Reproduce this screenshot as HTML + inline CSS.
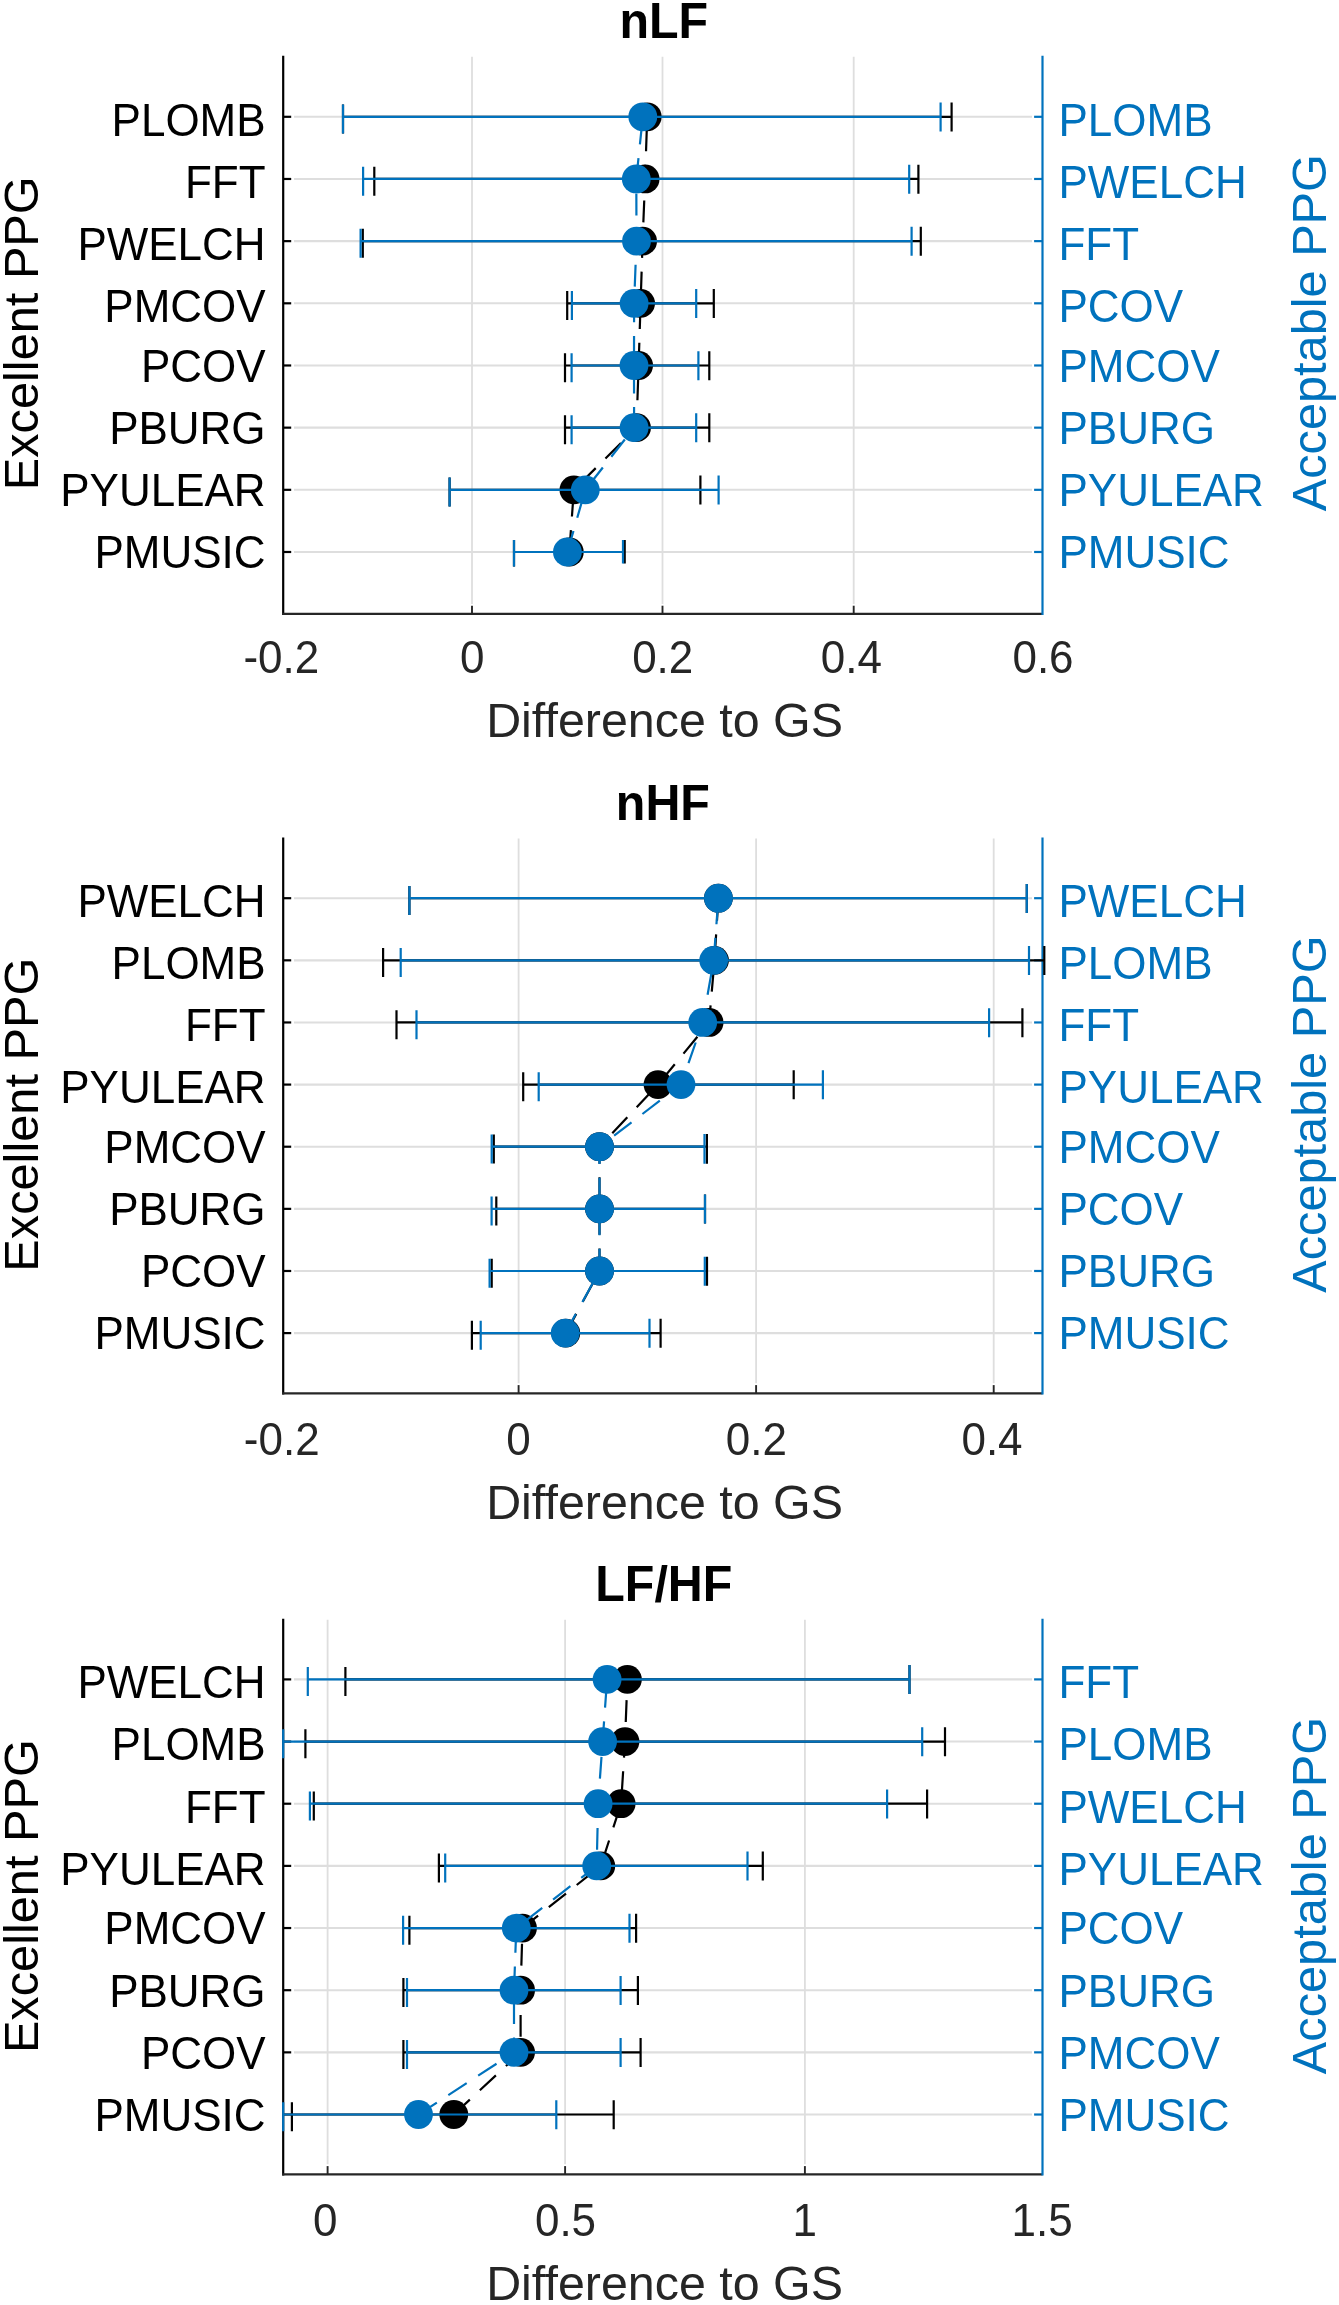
<!DOCTYPE html>
<html><head><meta charset="utf-8"><title>Chart</title>
<style>html,body{margin:0;padding:0;background:#fff;}svg{display:block;}</style>
</head><body>
<svg width="1339" height="2305" viewBox="0 0 1339 2305" font-family="'Liberation Sans', sans-serif" style="will-change:transform">
<rect width="1339" height="2305" fill="#fff"/>
<g>
<g stroke="#dedede" stroke-width="1.8" fill="none">
<line x1="472" y1="56.7" x2="472" y2="603.9"/>
<line x1="662.5" y1="56.7" x2="662.5" y2="603.9"/>
<line x1="853.7" y1="56.7" x2="853.7" y2="603.9"/>
<line x1="294" y1="116.8" x2="1032" y2="116.8" stroke-width="2.1"/>
<line x1="294" y1="178.97" x2="1032" y2="178.97" stroke-width="2.1"/>
<line x1="294" y1="241.14" x2="1032" y2="241.14" stroke-width="2.1"/>
<line x1="294" y1="303.31" x2="1032" y2="303.31" stroke-width="2.1"/>
<line x1="294" y1="365.48" x2="1032" y2="365.48" stroke-width="2.1"/>
<line x1="294" y1="427.65" x2="1032" y2="427.65" stroke-width="2.1"/>
<line x1="294" y1="489.82" x2="1032" y2="489.82" stroke-width="2.1"/>
<line x1="294" y1="551.99" x2="1032" y2="551.99" stroke-width="2.1"/>
</g>
<g stroke="#000000" stroke-width="2.2" fill="none">
<line x1="283.2" y1="55.7" x2="283.2" y2="615"/>
<line x1="283.2" y1="116.8" x2="291.2" y2="116.8"/>
<line x1="283.2" y1="178.97" x2="291.2" y2="178.97"/>
<line x1="283.2" y1="241.14" x2="291.2" y2="241.14"/>
<line x1="283.2" y1="303.31" x2="291.2" y2="303.31"/>
<line x1="283.2" y1="365.48" x2="291.2" y2="365.48"/>
<line x1="283.2" y1="427.65" x2="291.2" y2="427.65"/>
<line x1="283.2" y1="489.82" x2="291.2" y2="489.82"/>
<line x1="283.2" y1="551.99" x2="291.2" y2="551.99"/>
</g>
<g stroke="#262626" stroke-width="2.2" fill="none">
<line x1="282.1" y1="613.9" x2="1042.5" y2="613.9"/>
<line x1="472" y1="613.9" x2="472" y2="605.7" stroke-width="1.9"/>
<line x1="662.5" y1="613.9" x2="662.5" y2="605.7" stroke-width="1.9"/>
<line x1="853.7" y1="613.9" x2="853.7" y2="605.7" stroke-width="1.9"/>
</g>
<g stroke="#0072BD" stroke-width="2.2" fill="none">
<line x1="1042.5" y1="55.7" x2="1042.5" y2="615"/>
<line x1="1042.5" y1="116.8" x2="1034.1" y2="116.8"/>
<line x1="1042.5" y1="178.97" x2="1034.1" y2="178.97"/>
<line x1="1042.5" y1="241.14" x2="1034.1" y2="241.14"/>
<line x1="1042.5" y1="303.31" x2="1034.1" y2="303.31"/>
<line x1="1042.5" y1="365.48" x2="1034.1" y2="365.48"/>
<line x1="1042.5" y1="427.65" x2="1034.1" y2="427.65"/>
<line x1="1042.5" y1="489.82" x2="1034.1" y2="489.82"/>
<line x1="1042.5" y1="551.99" x2="1034.1" y2="551.99"/>
</g>
<g stroke="#000000" stroke-width="2.2" fill="none">
<path d="M343 116.8H951.6"/>
<path d="M374.3 178.97H918.4"/>
<path d="M362.8 241.14H920.8"/>
<path d="M567.2 303.31H713.8"/>
<path d="M565 365.48H709.3"/>
<path d="M565 427.65H709.3"/>
<path d="M449.6 489.82H700.4"/>
<path d="M514 551.99H624.7"/>
</g>
<g stroke="#000000" stroke-width="2.2" fill="none">
<path d="M343 104.5V133.5M951.6 102.5V131.5"/>
<path d="M374.3 166.67V195.67M918.4 164.67V193.67"/>
<path d="M362.8 228.84V257.84M920.8 226.84V255.84"/>
<path d="M567.2 291.01V320.01M713.8 289.01V318.01"/>
<path d="M565 353.18V382.18M709.3 351.18V380.18"/>
<path d="M565 415.35V444.35M709.3 413.35V442.35"/>
<path d="M449.6 477.52V506.52M700.4 475.52V504.52"/>
<path d="M514 539.89V566.39M624.7 539.99V563.39"/>
</g>
<polyline points="569.3,551.99 573.9,489.82 636.5,427.65 638.6,365.48 640.6,303.31 642.6,241.14 645.1,178.97 647.2,116.8" fill="none" stroke="#000000" stroke-width="2.2" stroke-dasharray="21.9 13.7" stroke-dashoffset="0"/>
<g fill="#000000">
<circle cx="647.2" cy="116.8" r="14.4"/>
<circle cx="645.1" cy="178.97" r="14.4"/>
<circle cx="642.6" cy="241.14" r="14.4"/>
<circle cx="640.6" cy="303.31" r="14.4"/>
<circle cx="638.6" cy="365.48" r="14.4"/>
<circle cx="636.5" cy="427.65" r="14.4"/>
<circle cx="573.9" cy="489.82" r="14.4"/>
<circle cx="569.3" cy="551.99" r="14.4"/>
</g>
<g stroke="#0072BD" stroke-width="2.2" fill="none">
<path d="M343 116.8H940.6"/>
<path d="M363.1 178.97H909.2"/>
<path d="M360.6 241.14H911.6"/>
<path d="M571.9 303.31H696.2"/>
<path d="M571.6 365.48H698.4"/>
<path d="M571.6 427.65H696.2"/>
<path d="M449.6 489.82H718.6"/>
<path d="M514 551.99H623"/>
</g>
<g stroke="#0072BD" stroke-width="2.2" fill="none">
<path d="M343 104.5V133.5M940.6 102.5V131.5"/>
<path d="M363.1 166.67V195.67M909.2 164.67V193.67"/>
<path d="M360.6 228.84V257.84M911.6 226.84V255.84"/>
<path d="M571.9 291.01V320.01M696.2 289.01V318.01"/>
<path d="M571.6 353.18V382.18M698.4 351.18V380.18"/>
<path d="M571.6 415.35V444.35M696.2 413.35V442.35"/>
<path d="M449.6 477.52V506.52M718.6 475.52V504.52"/>
<path d="M514 539.89V566.39M623 539.99V563.39"/>
</g>
<polyline points="567.4,551.99 585.3,489.82 634.1,427.65 634,365.48 634.1,303.31 636.5,241.14 636.3,178.97 642.8,116.8" fill="none" stroke="#0072BD" stroke-width="2.2" stroke-dasharray="21.9 13.7" stroke-dashoffset="0"/>
<g fill="#0072BD">
<circle cx="642.8" cy="116.8" r="14.4"/>
<circle cx="636.3" cy="178.97" r="14.4"/>
<circle cx="636.5" cy="241.14" r="14.4"/>
<circle cx="634.1" cy="303.31" r="14.4"/>
<circle cx="634" cy="365.48" r="14.4"/>
<circle cx="634.1" cy="427.65" r="14.4"/>
<circle cx="585.3" cy="489.82" r="14.4"/>
<circle cx="567.4" cy="551.99" r="14.4"/>
</g>
<g font-size="44" fill="#000000" text-anchor="end">
<text transform="translate(265.6 135.6) scale(1 1.04)" >PLOMB</text>
<text transform="translate(265.6 197.77) scale(1 1.04)" >FFT</text>
<text transform="translate(265.6 259.94) scale(1 1.04)" >PWELCH</text>
<text transform="translate(265.6 322.11) scale(1 1.04)" >PMCOV</text>
<text transform="translate(265.6 381.78) scale(1 1.04)" >PCOV</text>
<text transform="translate(265.6 443.95) scale(1 1.04)" >PBURG</text>
<text transform="translate(265.6 506.12) scale(1 1.04)" >PYULEAR</text>
<text transform="translate(265.6 568.29) scale(1 1.04)" >PMUSIC</text>
</g>
<g font-size="44" fill="#0072BD">
<text transform="translate(1058.5 135.6) scale(1 1.04)" >PLOMB</text>
<text transform="translate(1058.5 197.77) scale(1 1.04)" >PWELCH</text>
<text transform="translate(1058.5 259.94) scale(1 1.04)" >FFT</text>
<text transform="translate(1058.5 322.11) scale(1 1.04)" >PCOV</text>
<text transform="translate(1058.5 381.78) scale(1 1.04)" >PMCOV</text>
<text transform="translate(1058.5 443.95) scale(1 1.04)" >PBURG</text>
<text transform="translate(1058.5 506.12) scale(1 1.04)" >PYULEAR</text>
<text transform="translate(1058.5 568.29) scale(1 1.04)" >PMUSIC</text>
</g>
<g font-size="44" fill="#262626" text-anchor="middle">
<text transform="translate(281.3 673.3) scale(1 1.04)" >-0.2</text>
<text transform="translate(472.3 673.3) scale(1 1.04)" >0</text>
<text transform="translate(662.7 673.3) scale(1 1.04)" >0.2</text>
<text transform="translate(851.4 673.3) scale(1 1.04)" >0.4</text>
<text transform="translate(1043 673.3) scale(1 1.04)" >0.6</text>
</g>
<text transform="translate(663.8 38.2) scale(1 1.05)" font-size="48.4" font-weight="bold" text-anchor="middle" fill="#000">nLF</text>
<text x="664.6" y="737.1" font-size="48.4" text-anchor="middle" fill="#262626">Difference to GS</text>
<text transform="translate(37.9 333.25) rotate(-90)" font-size="48.7" text-anchor="middle" fill="#000">Excellent PPG</text>
<text transform="translate(1325.7 332.65) rotate(-90)" font-size="48.7" text-anchor="middle" fill="#0072BD">Acceptable PPG</text>
</g>
<g>
<g stroke="#dedede" stroke-width="1.8" fill="none">
<line x1="518.6" y1="838.5" x2="518.6" y2="1383.3"/>
<line x1="756.1" y1="838.5" x2="756.1" y2="1383.3"/>
<line x1="993.7" y1="838.5" x2="993.7" y2="1383.3"/>
<line x1="294" y1="898.2" x2="1032" y2="898.2" stroke-width="2.1"/>
<line x1="294" y1="960.33" x2="1032" y2="960.33" stroke-width="2.1"/>
<line x1="294" y1="1022.46" x2="1032" y2="1022.46" stroke-width="2.1"/>
<line x1="294" y1="1084.59" x2="1032" y2="1084.59" stroke-width="2.1"/>
<line x1="294" y1="1146.72" x2="1032" y2="1146.72" stroke-width="2.1"/>
<line x1="294" y1="1208.85" x2="1032" y2="1208.85" stroke-width="2.1"/>
<line x1="294" y1="1270.98" x2="1032" y2="1270.98" stroke-width="2.1"/>
<line x1="294" y1="1333.11" x2="1032" y2="1333.11" stroke-width="2.1"/>
</g>
<g stroke="#000000" stroke-width="2.2" fill="none">
<line x1="283.2" y1="837.5" x2="283.2" y2="1394.4"/>
<line x1="283.2" y1="898.2" x2="291.2" y2="898.2"/>
<line x1="283.2" y1="960.33" x2="291.2" y2="960.33"/>
<line x1="283.2" y1="1022.46" x2="291.2" y2="1022.46"/>
<line x1="283.2" y1="1084.59" x2="291.2" y2="1084.59"/>
<line x1="283.2" y1="1146.72" x2="291.2" y2="1146.72"/>
<line x1="283.2" y1="1208.85" x2="291.2" y2="1208.85"/>
<line x1="283.2" y1="1270.98" x2="291.2" y2="1270.98"/>
<line x1="283.2" y1="1333.11" x2="291.2" y2="1333.11"/>
</g>
<g stroke="#262626" stroke-width="2.2" fill="none">
<line x1="282.1" y1="1393.3" x2="1042.5" y2="1393.3"/>
<line x1="518.6" y1="1393.3" x2="518.6" y2="1385.1" stroke-width="1.9"/>
<line x1="756.1" y1="1393.3" x2="756.1" y2="1385.1" stroke-width="1.9"/>
<line x1="993.7" y1="1393.3" x2="993.7" y2="1385.1" stroke-width="1.9"/>
</g>
<g stroke="#0072BD" stroke-width="2.2" fill="none">
<line x1="1042.5" y1="837.5" x2="1042.5" y2="1394.4"/>
<line x1="1042.5" y1="898.2" x2="1034.1" y2="898.2"/>
<line x1="1042.5" y1="960.33" x2="1034.1" y2="960.33"/>
<line x1="1042.5" y1="1022.46" x2="1034.1" y2="1022.46"/>
<line x1="1042.5" y1="1084.59" x2="1034.1" y2="1084.59"/>
<line x1="1042.5" y1="1146.72" x2="1034.1" y2="1146.72"/>
<line x1="1042.5" y1="1208.85" x2="1034.1" y2="1208.85"/>
<line x1="1042.5" y1="1270.98" x2="1034.1" y2="1270.98"/>
<line x1="1042.5" y1="1333.11" x2="1034.1" y2="1333.11"/>
</g>
<g stroke="#000000" stroke-width="2.2" fill="none">
<path d="M409.4 898.2H1026.8"/>
<path d="M383.1 960.33H1044.3"/>
<path d="M396.5 1022.46H1022.4"/>
<path d="M523.2 1084.59H793.7"/>
<path d="M493.8 1146.72H706.9"/>
<path d="M496.3 1208.85H705"/>
<path d="M491.7 1270.98H707"/>
<path d="M471.9 1333.11H660.6"/>
</g>
<g stroke="#000000" stroke-width="2.2" fill="none">
<path d="M409.4 885.9V914.9M1026.8 883.9V912.9"/>
<path d="M383.1 948.03V977.03M1044.3 946.03V975.03"/>
<path d="M396.5 1010.16V1039.16M1022.4 1008.16V1037.16"/>
<path d="M523.2 1072.29V1101.29M793.7 1070.29V1099.29"/>
<path d="M493.8 1134.42V1163.42M706.9 1134.12V1163.82"/>
<path d="M496.3 1196.55V1225.55M705 1194.55V1223.55"/>
<path d="M491.7 1258.68V1287.68M707 1256.68V1285.68"/>
<path d="M471.9 1320.81V1349.81M660.6 1318.81V1347.81"/>
</g>
<polyline points="565.8,1333.11 599.5,1270.98 599.5,1208.85 599.5,1146.72 658,1084.59 709.1,1022.46 714.5,960.33 718.4,898.2" fill="none" stroke="#000000" stroke-width="2.2" stroke-dasharray="21.9 13.7" stroke-dashoffset="0"/>
<g fill="#000000">
<circle cx="718.4" cy="898.2" r="14.4"/>
<circle cx="714.5" cy="960.33" r="14.4"/>
<circle cx="709.1" cy="1022.46" r="14.4"/>
<circle cx="658" cy="1084.59" r="14.4"/>
<circle cx="599.5" cy="1146.72" r="14.4"/>
<circle cx="599.5" cy="1208.85" r="14.4"/>
<circle cx="599.5" cy="1270.98" r="14.4"/>
<circle cx="565.8" cy="1333.11" r="14.4"/>
</g>
<g stroke="#0072BD" stroke-width="2.2" fill="none">
<path d="M409.4 898.2H1026.8"/>
<path d="M400.7 960.33H1029"/>
<path d="M416.5 1022.46H989.1"/>
<path d="M538.7 1084.59H822.9"/>
<path d="M491.7 1146.72H704.5"/>
<path d="M491.6 1208.85H705"/>
<path d="M489.6 1270.98H704.8"/>
<path d="M480.7 1333.11H649.5"/>
</g>
<g stroke="#0072BD" stroke-width="2.2" fill="none">
<path d="M409.4 885.9V914.9M1026.8 883.9V912.9"/>
<path d="M400.7 948.03V977.03M1029 946.03V975.03"/>
<path d="M416.5 1010.16V1039.16M989.1 1008.16V1037.16"/>
<path d="M538.7 1072.29V1101.29M822.9 1070.29V1099.29"/>
<path d="M491.7 1134.42V1163.42M704.5 1134.12V1163.82"/>
<path d="M491.6 1196.55V1225.55M705 1194.55V1223.55"/>
<path d="M489.6 1258.68V1287.68M704.8 1256.68V1285.68"/>
<path d="M480.7 1320.81V1349.81M649.5 1318.81V1347.81"/>
</g>
<polyline points="565.2,1333.11 599.5,1270.98 599.5,1208.85 599.5,1146.72 681,1084.59 702.7,1022.46 713.7,960.33 718.4,898.2" fill="none" stroke="#0072BD" stroke-width="2.2" stroke-dasharray="21.9 13.7" stroke-dashoffset="0"/>
<g fill="#0072BD">
<circle cx="718.4" cy="898.2" r="14.4"/>
<circle cx="713.7" cy="960.33" r="14.4"/>
<circle cx="702.7" cy="1022.46" r="14.4"/>
<circle cx="681" cy="1084.59" r="14.4"/>
<circle cx="599.5" cy="1146.72" r="14.4"/>
<circle cx="599.5" cy="1208.85" r="14.4"/>
<circle cx="599.5" cy="1270.98" r="14.4"/>
<circle cx="565.2" cy="1333.11" r="14.4"/>
</g>
<g font-size="44" fill="#000000" text-anchor="end">
<text transform="translate(265.6 917) scale(1 1.04)" >PWELCH</text>
<text transform="translate(265.6 979.13) scale(1 1.04)" >PLOMB</text>
<text transform="translate(265.6 1041.26) scale(1 1.04)" >FFT</text>
<text transform="translate(265.6 1103.39) scale(1 1.04)" >PYULEAR</text>
<text transform="translate(265.6 1163.02) scale(1 1.04)" >PMCOV</text>
<text transform="translate(265.6 1225.15) scale(1 1.04)" >PBURG</text>
<text transform="translate(265.6 1287.28) scale(1 1.04)" >PCOV</text>
<text transform="translate(265.6 1349.41) scale(1 1.04)" >PMUSIC</text>
</g>
<g font-size="44" fill="#0072BD">
<text transform="translate(1058.5 917) scale(1 1.04)" >PWELCH</text>
<text transform="translate(1058.5 979.13) scale(1 1.04)" >PLOMB</text>
<text transform="translate(1058.5 1041.26) scale(1 1.04)" >FFT</text>
<text transform="translate(1058.5 1103.39) scale(1 1.04)" >PYULEAR</text>
<text transform="translate(1058.5 1163.02) scale(1 1.04)" >PMCOV</text>
<text transform="translate(1058.5 1225.15) scale(1 1.04)" >PCOV</text>
<text transform="translate(1058.5 1287.28) scale(1 1.04)" >PBURG</text>
<text transform="translate(1058.5 1349.41) scale(1 1.04)" >PMUSIC</text>
</g>
<g font-size="44" fill="#262626" text-anchor="middle">
<text transform="translate(281.7 1454.75) scale(1 1.04)" >-0.2</text>
<text transform="translate(518.5 1454.75) scale(1 1.04)" >0</text>
<text transform="translate(756.3 1454.75) scale(1 1.04)" >0.2</text>
<text transform="translate(992 1454.75) scale(1 1.04)" >0.4</text>
</g>
<text transform="translate(662.9 819.65) scale(1 1.05)" font-size="48.4" font-weight="bold" text-anchor="middle" fill="#000">nHF</text>
<text x="664.6" y="1518.55" font-size="48.4" text-anchor="middle" fill="#262626">Difference to GS</text>
<text transform="translate(37.9 1114.7) rotate(-90)" font-size="48.7" text-anchor="middle" fill="#000">Excellent PPG</text>
<text transform="translate(1325.7 1114.1) rotate(-90)" font-size="48.7" text-anchor="middle" fill="#0072BD">Acceptable PPG</text>
</g>
<g>
<g stroke="#dedede" stroke-width="1.8" fill="none">
<line x1="327.6" y1="1619.7" x2="327.6" y2="2164.3"/>
<line x1="565.1" y1="1619.7" x2="565.1" y2="2164.3"/>
<line x1="804.9" y1="1619.7" x2="804.9" y2="2164.3"/>
<line x1="294" y1="1679.4" x2="1032" y2="1679.4" stroke-width="2.1"/>
<line x1="294" y1="1741.56" x2="1032" y2="1741.56" stroke-width="2.1"/>
<line x1="294" y1="1803.72" x2="1032" y2="1803.72" stroke-width="2.1"/>
<line x1="294" y1="1865.88" x2="1032" y2="1865.88" stroke-width="2.1"/>
<line x1="294" y1="1928.04" x2="1032" y2="1928.04" stroke-width="2.1"/>
<line x1="294" y1="1990.2" x2="1032" y2="1990.2" stroke-width="2.1"/>
<line x1="294" y1="2052.36" x2="1032" y2="2052.36" stroke-width="2.1"/>
<line x1="294" y1="2114.52" x2="1032" y2="2114.52" stroke-width="2.1"/>
</g>
<g stroke="#000000" stroke-width="2.2" fill="none">
<line x1="283.2" y1="1618.7" x2="283.2" y2="2175.4"/>
<line x1="283.2" y1="1679.4" x2="291.2" y2="1679.4"/>
<line x1="283.2" y1="1741.56" x2="291.2" y2="1741.56"/>
<line x1="283.2" y1="1803.72" x2="291.2" y2="1803.72"/>
<line x1="283.2" y1="1865.88" x2="291.2" y2="1865.88"/>
<line x1="283.2" y1="1928.04" x2="291.2" y2="1928.04"/>
<line x1="283.2" y1="1990.2" x2="291.2" y2="1990.2"/>
<line x1="283.2" y1="2052.36" x2="291.2" y2="2052.36"/>
<line x1="283.2" y1="2114.52" x2="291.2" y2="2114.52"/>
</g>
<g stroke="#262626" stroke-width="2.2" fill="none">
<line x1="282.1" y1="2174.3" x2="1042.5" y2="2174.3"/>
<line x1="327.6" y1="2174.3" x2="327.6" y2="2166.1" stroke-width="1.9"/>
<line x1="565.1" y1="2174.3" x2="565.1" y2="2166.1" stroke-width="1.9"/>
<line x1="804.9" y1="2174.3" x2="804.9" y2="2166.1" stroke-width="1.9"/>
</g>
<g stroke="#0072BD" stroke-width="2.2" fill="none">
<line x1="1042.5" y1="1618.7" x2="1042.5" y2="2175.4"/>
<line x1="1042.5" y1="1679.4" x2="1034.1" y2="1679.4"/>
<line x1="1042.5" y1="1741.56" x2="1034.1" y2="1741.56"/>
<line x1="1042.5" y1="1803.72" x2="1034.1" y2="1803.72"/>
<line x1="1042.5" y1="1865.88" x2="1034.1" y2="1865.88"/>
<line x1="1042.5" y1="1928.04" x2="1034.1" y2="1928.04"/>
<line x1="1042.5" y1="1990.2" x2="1034.1" y2="1990.2"/>
<line x1="1042.5" y1="2052.36" x2="1034.1" y2="2052.36"/>
<line x1="1042.5" y1="2114.52" x2="1034.1" y2="2114.52"/>
</g>
<g stroke="#000000" stroke-width="2.2" fill="none">
<path d="M345.4 1679.4H909.5"/>
<path d="M305.4 1741.56H945"/>
<path d="M313.8 1803.72H927.1"/>
<path d="M438.9 1865.88H762.8"/>
<path d="M409.4 1928.04H636.1"/>
<path d="M403.4 1990.2H637.9"/>
<path d="M403.4 2052.36H640.6"/>
<path d="M291.9 2114.52H613.7"/>
</g>
<g stroke="#000000" stroke-width="2.2" fill="none">
<path d="M345.4 1667.1V1696.1M909.5 1665.1V1694.1"/>
<path d="M305.4 1729.26V1758.26M945 1727.26V1756.26"/>
<path d="M313.8 1791.42V1820.42M927.1 1789.42V1818.42"/>
<path d="M438.9 1853.58V1882.58M762.8 1851.58V1880.58"/>
<path d="M409.4 1915.74V1944.74M636.1 1913.74V1942.74"/>
<path d="M403.4 1977.9V2006.9M637.9 1975.9V2004.9"/>
<path d="M403.4 2040.06V2069.06M640.6 2038.06V2067.06"/>
<path d="M291.9 2102.22V2131.22M613.7 2100.22V2129.22"/>
</g>
<polyline points="453.8,2114.52 520.6,2052.36 520.6,1990.2 522.5,1928.04 600.8,1865.88 621.1,1803.72 625,1741.56 627.4,1679.4" fill="none" stroke="#000000" stroke-width="2.2" stroke-dasharray="21.9 13.7" stroke-dashoffset="0"/>
<g fill="#000000">
<circle cx="627.4" cy="1679.4" r="14.4"/>
<circle cx="625" cy="1741.56" r="14.4"/>
<circle cx="621.1" cy="1803.72" r="14.4"/>
<circle cx="600.8" cy="1865.88" r="14.4"/>
<circle cx="522.5" cy="1928.04" r="14.4"/>
<circle cx="520.6" cy="1990.2" r="14.4"/>
<circle cx="520.6" cy="2052.36" r="14.4"/>
<circle cx="453.8" cy="2114.52" r="14.4"/>
</g>
<g stroke="#0072BD" stroke-width="2.2" fill="none">
<path d="M307.8 1679.4H909.5"/>
<path d="M283.2 1741.56H922.2"/>
<path d="M309.9 1803.72H887.1"/>
<path d="M445.2 1865.88H747.5"/>
<path d="M403.1 1928.04H629.5"/>
<path d="M407 1990.2H620.6"/>
<path d="M407 2052.36H620.6"/>
<path d="M283.2 2114.52H556.3"/>
</g>
<g stroke="#0072BD" stroke-width="2.2" fill="none">
<path d="M307.8 1667.1V1696.1M909.5 1665.1V1694.1"/>
<path d="M283.2 1729.26V1758.26M922.2 1727.26V1756.26"/>
<path d="M309.9 1791.42V1820.42M887.1 1789.42V1818.42"/>
<path d="M445.2 1853.58V1882.58M747.5 1851.58V1880.58"/>
<path d="M403.1 1915.74V1944.74M629.5 1913.74V1942.74"/>
<path d="M407 1977.9V2006.9M620.6 1975.9V2004.9"/>
<path d="M407 2040.06V2069.06M620.6 2038.06V2067.06"/>
<path d="M283.2 2102.22V2131.22M556.3 2100.22V2129.22"/>
</g>
<polyline points="418.5,2114.52 514,2052.36 514,1990.2 516.3,1928.04 596.7,1865.88 598.1,1803.72 602.6,1741.56 607.1,1679.4" fill="none" stroke="#0072BD" stroke-width="2.2" stroke-dasharray="21.9 13.7" stroke-dashoffset="0"/>
<g fill="#0072BD">
<circle cx="607.1" cy="1679.4" r="14.4"/>
<circle cx="602.6" cy="1741.56" r="14.4"/>
<circle cx="598.1" cy="1803.72" r="14.4"/>
<circle cx="596.7" cy="1865.88" r="14.4"/>
<circle cx="516.3" cy="1928.04" r="14.4"/>
<circle cx="514" cy="1990.2" r="14.4"/>
<circle cx="514" cy="2052.36" r="14.4"/>
<circle cx="418.5" cy="2114.52" r="14.4"/>
</g>
<g font-size="44" fill="#000000" text-anchor="end">
<text transform="translate(265.6 1698.2) scale(1 1.04)" >PWELCH</text>
<text transform="translate(265.6 1760.36) scale(1 1.04)" >PLOMB</text>
<text transform="translate(265.6 1822.52) scale(1 1.04)" >FFT</text>
<text transform="translate(265.6 1884.68) scale(1 1.04)" >PYULEAR</text>
<text transform="translate(265.6 1944.34) scale(1 1.04)" >PMCOV</text>
<text transform="translate(265.6 2006.5) scale(1 1.04)" >PBURG</text>
<text transform="translate(265.6 2068.66) scale(1 1.04)" >PCOV</text>
<text transform="translate(265.6 2130.82) scale(1 1.04)" >PMUSIC</text>
</g>
<g font-size="44" fill="#0072BD">
<text transform="translate(1058.5 1698.2) scale(1 1.04)" >FFT</text>
<text transform="translate(1058.5 1760.36) scale(1 1.04)" >PLOMB</text>
<text transform="translate(1058.5 1822.52) scale(1 1.04)" >PWELCH</text>
<text transform="translate(1058.5 1884.68) scale(1 1.04)" >PYULEAR</text>
<text transform="translate(1058.5 1944.34) scale(1 1.04)" >PCOV</text>
<text transform="translate(1058.5 2006.5) scale(1 1.04)" >PBURG</text>
<text transform="translate(1058.5 2068.66) scale(1 1.04)" >PMCOV</text>
<text transform="translate(1058.5 2130.82) scale(1 1.04)" >PMUSIC</text>
</g>
<g font-size="44" fill="#262626" text-anchor="middle">
<text transform="translate(325.3 2236.2) scale(1 1.04)" >0</text>
<text transform="translate(565.5 2236.2) scale(1 1.04)" >0.5</text>
<text transform="translate(804.8 2236.2) scale(1 1.04)" >1</text>
<text transform="translate(1042.1 2236.2) scale(1 1.04)" >1.5</text>
</g>
<text transform="translate(663.8 1601.1) scale(1 1.05)" font-size="48.4" font-weight="bold" text-anchor="middle" fill="#000">LF/HF</text>
<text x="664.6" y="2300" font-size="48.4" text-anchor="middle" fill="#262626">Difference to GS</text>
<text transform="translate(37.9 1896.15) rotate(-90)" font-size="48.7" text-anchor="middle" fill="#000">Excellent PPG</text>
<text transform="translate(1325.7 1895.55) rotate(-90)" font-size="48.7" text-anchor="middle" fill="#0072BD">Acceptable PPG</text>
</g>
</svg>
</body></html>
